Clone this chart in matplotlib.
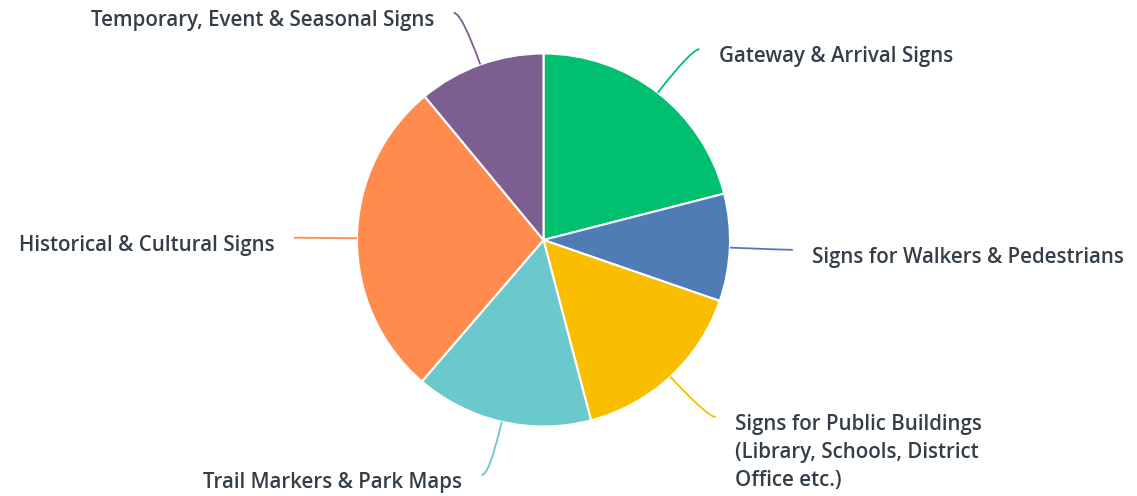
import numpy as np
import matplotlib
matplotlib.use("Agg")
import matplotlib.pyplot as plt
from matplotlib.path import Path
from matplotlib.patches import PathPatch

categories = [
    "Gateway & Arrival Signs",
    "Signs for Walkers & Pedestrians",
    "Signs for Public Buildings\n(Library, Schools, District\nOffice etc.)",
    "Trail Markers & Park Maps",
    "Historical & Cultural Signs",
    "Temporary, Event & Seasonal Signs",
]
values = [21.0, 9.3, 15.6, 15.4, 27.7, 11.0]
colors = ["#00BF6F", "#507CB6", "#F9BE00", "#6BC8CD", "#FF8B4F", "#7D5E90"]

W, H = 1137, 496
fig = plt.figure(figsize=(W / 100, H / 100), dpi=100)
ax = fig.add_axes([0, 0, 1, 1])

cx, cy, R = 543.5, H - 240, 186.5
wedges, _ = ax.pie(values, colors=colors, startangle=90, counterclock=False,
                   center=(cx, cy), radius=R, frame=True,
                   wedgeprops=dict(edgecolor="white", linewidth=1.5))
ax.set_xlim(0, W)
ax.set_ylim(0, H)
ax.set_aspect("equal")
ax.axis("off")

text_color = "#333E48"
line_h = 28
for w, label, col in zip(wedges, categories, colors):
    mid = np.deg2rad((w.theta1 + w.theta2) / 2)
    d = np.array([np.cos(mid), np.sin(mid)])
    S = np.array([cx, cy]) + R * d
    C = S + 55 * d
    side = 1 if d[0] >= 0 else -1
    E = C + np.array([8 * side, 0])
    path = Path([S, C, E], [Path.MOVETO, Path.CURVE3, Path.CURVE3])
    ax.add_patch(PathPatch(path, facecolor="none", edgecolor=col, lw=1.3))
    for i, line in enumerate(label.split("\n")):
        ax.text(E[0] + 19 * side, E[1] - 13 - i * line_h, line,
                ha="left" if side > 0 else "right", va="baseline",
                fontsize=14.8, family="Open Sans", fontweight=600,
                color=text_color)

fig.savefig("out.png", dpi=100, facecolor="white")
